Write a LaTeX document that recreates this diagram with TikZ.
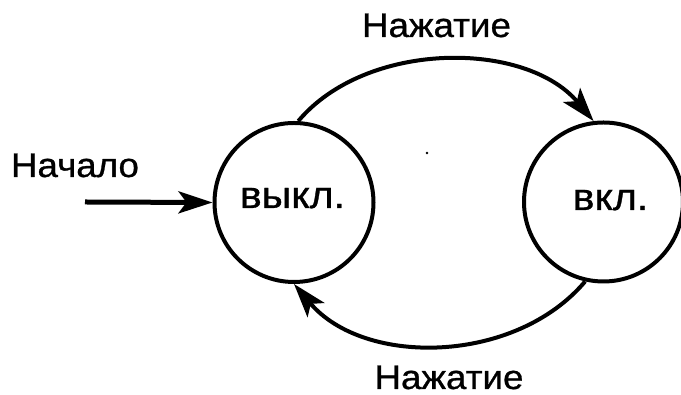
\documentclass[tikz,border=0pt]{standalone}
\usepackage{fontspec}
\setmainfont{Liberation Sans}[FakeBold=0.8,FakeStretch=1.08]
\usetikzlibrary{arrows.meta}
\begin{document}
\begin{tikzpicture}[x=1pt,y=1pt,
  state/.style={circle,draw,line width=4pt,minimum size=159pt,inner sep=0pt},
  lbl/.style={inner sep=0pt,font=\fontsize{34}{38}\selectfont},
  intext/.style={inner sep=0pt,font=\fontsize{38}{42}\selectfont},
  conn/.style={line width=4pt,-{Stealth[length=34pt,width=22pt,inset=8pt]}}]
\useasboundingbox (0,0) rectangle (681,395);
\node[state] (off) at (294,192.5) {};
\node[state] (on) at (603.5,193) {};
\node[intext,anchor=base] (offt) at (292.5,187) {выкл.};
\node[intext,anchor=base] (ont) at (610.5,185) {вкл.};
\node[lbl,anchor=base] (start) at (75,218) {Начало};
\node[lbl,anchor=base] (top) at (436.5,358) {Нажатие};
\node[lbl,anchor=base] (bot) at (449,6) {Нажатие};
\coordinate (s) at (85,193);
\draw[conn,line width=5pt] (s) -- (off.west);
\draw[conn] (off.87) .. controls +(68,81) and +(-68,81) .. (on.97);
\draw[conn] (on.-103) .. controls +(-70,-83) and +(70,-83) .. (off.-90);
\fill (427,242) circle (1.3pt);
\end{tikzpicture}
\end{document}
